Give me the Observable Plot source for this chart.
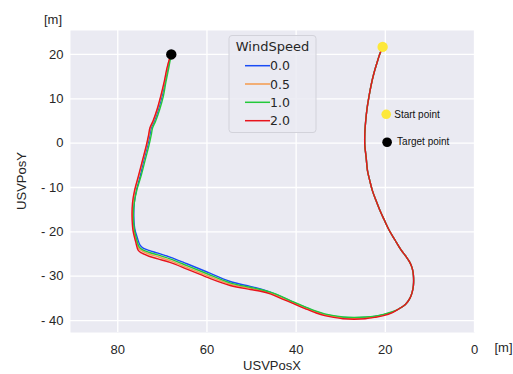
<!DOCTYPE html>
<html><head><meta charset="utf-8">
<script src="https://cdn.jsdelivr.net/npm/d3@7"></script>
<script src="https://cdn.jsdelivr.net/npm/@observablehq/plot@0.6"></script>
<style>body{margin:0;background:#fff}</style>
</head><body><div id="chart"></div>
<script>
const windSpeeds = ["0.0", "0.5", "1.0", "2.0"];
const lineColors = ["#1a4cf5", "#f59a4b", "#22c93a", "#e8141c"];
const xTicks = [0, 20, 40, 60, 80];
const yTicks = [-40, -30, -20, -10, 0, 10, 20];

// common first part of the route (all wind speeds overlap here)
const sharedX = [20.6,21.2,21.9,22.6,23.2,23.7,24.1,24.4,24.6,24.6,24.3,24.0,23.5,22.9,22.1,21.2,20.2,19.1,17.8,16.4,15.4,14.5,13.95,13.7,13.7,14.0,14.5,15.5,17.0];
const sharedY = [21.7,20.2,18.0,15.6,13.0,10.3,7.8,5.0,2.1,-0.5,-3.2,-6.2,-8.4,-10.7,-12.9,-15.2,-17.4,-19.7,-21.9,-24.2,-25.5,-26.9,-28.3,-29.8,-32.1,-33.7,-35.0,-36.4,-37.4];

// per wind speed remaining part
const tailX_00 = [18.4,20.4,22.4,24.5,27.0,29.5,31.6,33.6,35.5,38.0,40.6,43.2,45.8,48.0,50.3,54.8,60.1,64.5,68.3,71.0,73.0,74.4,75.0,75.6,76.2,76.4,76.3,75.8,75.0,74.2,73.3,72.8,72.5,71.8,70.9,70.1,69.4,68.8,68.3,68.0];
const tailY_00 = [-38.1,-38.7,-39.1,-39.3,-39.4,-39.3,-39.0,-38.6,-38.0,-37.0,-35.9,-34.7,-33.6,-32.9,-32.3,-31.2,-29.0,-27.2,-25.7,-24.8,-24.2,-23.6,-23.0,-21.4,-19.2,-16.5,-13.5,-10.5,-7.5,-4.0,-0.5,1.8,3.4,5.0,7.6,10.5,13.8,16.8,19.0,20.0];
const tailX_05 = [18.4,20.4,22.4,24.5,27.0,29.5,31.6,33.6,35.5,38.0,40.6,43.2,45.8,48.0,50.3,54.8,60.1,64.5,68.3,71.0,73.0,74.6,75.3,75.9,76.5,76.7,76.6,76.1,75.3,74.4,73.5,73.0,72.7,72.0,71.1,70.3,69.5,68.9,68.4,68.0];
const tailY_05 = [-38.1,-38.7,-39.2,-39.4,-39.5,-39.4,-39.1,-38.7,-38.1,-37.1,-36.0,-34.9,-33.8,-33.2,-32.7,-31.8,-29.8,-28.0,-26.5,-25.6,-25.0,-24.3,-23.7,-21.8,-19.4,-16.5,-13.5,-10.5,-7.5,-4.0,-0.5,1.8,3.4,5.0,7.6,10.5,13.8,16.8,19.0,20.0];
const tailX_10 = [18.4,20.4,22.4,24.5,27.0,29.5,31.6,33.6,35.5,38.0,40.6,43.2,45.8,48.0,50.3,54.8,60.1,64.5,68.3,71.0,73.0,74.5,75.2,75.8,76.3,76.5,76.3,75.7,74.8,73.9,73.0,72.5,72.2,71.5,70.6,69.8,69.2,68.6,68.2,68.0];
const tailY_10 = [-38.0,-38.6,-39.0,-39.2,-39.3,-39.2,-38.9,-38.5,-37.9,-36.9,-35.8,-34.6,-33.6,-33.0,-32.5,-31.5,-29.4,-27.6,-26.1,-25.2,-24.6,-24.0,-23.4,-21.6,-19.3,-16.5,-13.5,-10.5,-7.5,-4.0,-0.5,1.8,3.4,5.0,7.6,10.5,13.8,16.8,19.0,20.0];
const tailX_20 = [18.4,20.4,22.4,24.5,27.0,29.5,31.6,33.6,35.5,38.0,40.6,43.2,45.8,48.0,50.3,54.8,60.1,64.5,68.3,71.0,73.0,74.8,75.4,76.0,76.6,76.8,76.7,76.2,75.4,74.5,73.6,73.1,72.8,72.1,71.2,70.4,69.6,69.0,68.4,68.0];
const tailY_20 = [-38.2,-38.9,-39.3,-39.6,-39.7,-39.6,-39.3,-38.9,-38.3,-37.3,-36.2,-35.1,-34.0,-33.4,-33.0,-32.1,-30.2,-28.4,-26.9,-26.1,-25.5,-24.7,-24.2,-22.2,-19.6,-16.5,-13.5,-10.5,-7.5,-4.0,-0.5,1.8,3.4,5.0,7.6,10.5,13.8,16.8,19.0,20.0];

const routeStart = {x: 20.6, y: 21.7};
const routeEnd = {x: 68.0, y: 20.0};
const markerLabels = ["Start point", "Target point"];
const markerX = [19.8, 19.6];
const markerY = [6.5, 0.2];
const markerColors = ["#fde83a", "#000000"];

const tails = [[tailX_00, tailY_00], [tailX_05, tailY_05], [tailX_10, tailY_10], [tailX_20, tailY_20]];
const rows = [];
windSpeeds.forEach((w, i) => {
  const xs = sharedX.concat(tails[i][0]);
  const ys = sharedY.concat(tails[i][1]);
  xs.forEach((x, j) => rows.push({x, y: ys[j], wind: w}));
});
const markers = markerLabels.map((t, i) => ({text: t, x: markerX[i], y: markerY[i], fill: markerColors[i]}));

const chart = Plot.plot({
  width: 513, height: 374,
  marginLeft: 70, marginRight: 39, marginTop: 30, marginBottom: 42,
  style: {fontFamily: "'Liberation Sans', Arial, sans-serif", fontSize: "13px", background: "#fff", color: "#262626", overflow: "visible"},
  x: {domain: [0, 90.6], reverse: true, ticks: xTicks, tickSize: 0, tickPadding: 12, label: null},
  y: {domain: [-42.7, 25.4], ticks: yTicks, tickSize: 0, tickPadding: 7, label: null,
      tickFormat: d => d < 0 ? "- " + Math.abs(d) : String(d)},
  color: {domain: windSpeeds, range: lineColors},
  marks: [
    Plot.frame({fill: "#eaeaf2", stroke: null}),
    Plot.gridX(xTicks, {stroke: "#fff", strokeOpacity: 1, strokeWidth: 1.3}),
    Plot.gridY(yTicks, {stroke: "#fff", strokeOpacity: 1, strokeWidth: 1.3}),
    Plot.line(rows, {x: "x", y: "y", z: "wind", stroke: "wind", strokeWidth: 1.4, curve: "catmull-rom"}),
    Plot.dot([routeStart], {x: "x", y: "y", r: 5.2, fill: "#fde83a"}),
    Plot.dot([routeEnd], {x: "x", y: "y", r: 5.2, fill: "#000"}),
    Plot.dot(markers, {x: "x", y: "y", r: 4.8, fill: d => d.fill}),
    Plot.text(markers.slice(0,1), {x: "x", y: "y", text: "text", dx: 8, textAnchor: "start", fontSize: 10, fill: "#111"}),
    Plot.text(markers.slice(1), {x: "x", y: "y", text: "text", dx: 10, textAnchor: "start", fontSize: 10, fill: "#111"})
  ]
});
document.getElementById("chart").appendChild(chart);

const svg = d3.select(chart);
const ff = "'Liberation Sans', Arial, sans-serif";
svg.append("text").attr("x", 53).attr("y", 19).attr("dy", "0.35em").attr("text-anchor", "middle")
  .attr("font-family", ff).attr("font-size", 13).attr("fill", "#262626").text("[m]");
svg.append("text").attr("x", 503.5).attr("y", 347).attr("dy", "0.35em").attr("text-anchor", "middle")
  .attr("font-family", ff).attr("font-size", 13).attr("fill", "#262626").text("[m]");
svg.append("text").attr("x", 272).attr("y", 365).attr("dy", "0.35em").attr("text-anchor", "middle")
  .attr("font-family", ff).attr("font-size", 13).attr("fill", "#262626").text("USVPosX");
svg.append("text").attr("transform", "translate(21,181) rotate(-90)").attr("dy", "0.35em").attr("text-anchor", "middle")
  .attr("font-family", ff).attr("font-size", 13).attr("fill", "#262626").text("USVPosY");

// legend
const lg = svg.append("g");
lg.append("rect").attr("x", 229).attr("y", 35.5).attr("width", 87).attr("height", 97).attr("rx", 3)
  .attr("fill", "#eaeaf2").attr("fill-opacity", 0.85).attr("stroke", "#d2d2da");
lg.append("text").attr("x", 272.5).attr("y", 51).attr("text-anchor", "middle")
  .attr("font-family", "'DejaVu Sans', sans-serif").attr("font-size", 13).attr("fill", "#262626").text("WindSpeed");
const rowY = [65.7, 84, 102.3, 120.7];
windSpeeds.forEach((w, i) => {
  lg.append("line").attr("x1", 245).attr("x2", 270).attr("y1", rowY[i]).attr("y2", rowY[i])
    .attr("stroke", lineColors[i]).attr("stroke-width", 1.5);
  lg.append("text").attr("x", 280).attr("y", rowY[i]).attr("dy", "0.36em")
    .attr("font-family", "'DejaVu Sans', sans-serif").attr("font-size", 12.5).attr("fill", "#262626").text(w);
});
</script>
</body></html>
